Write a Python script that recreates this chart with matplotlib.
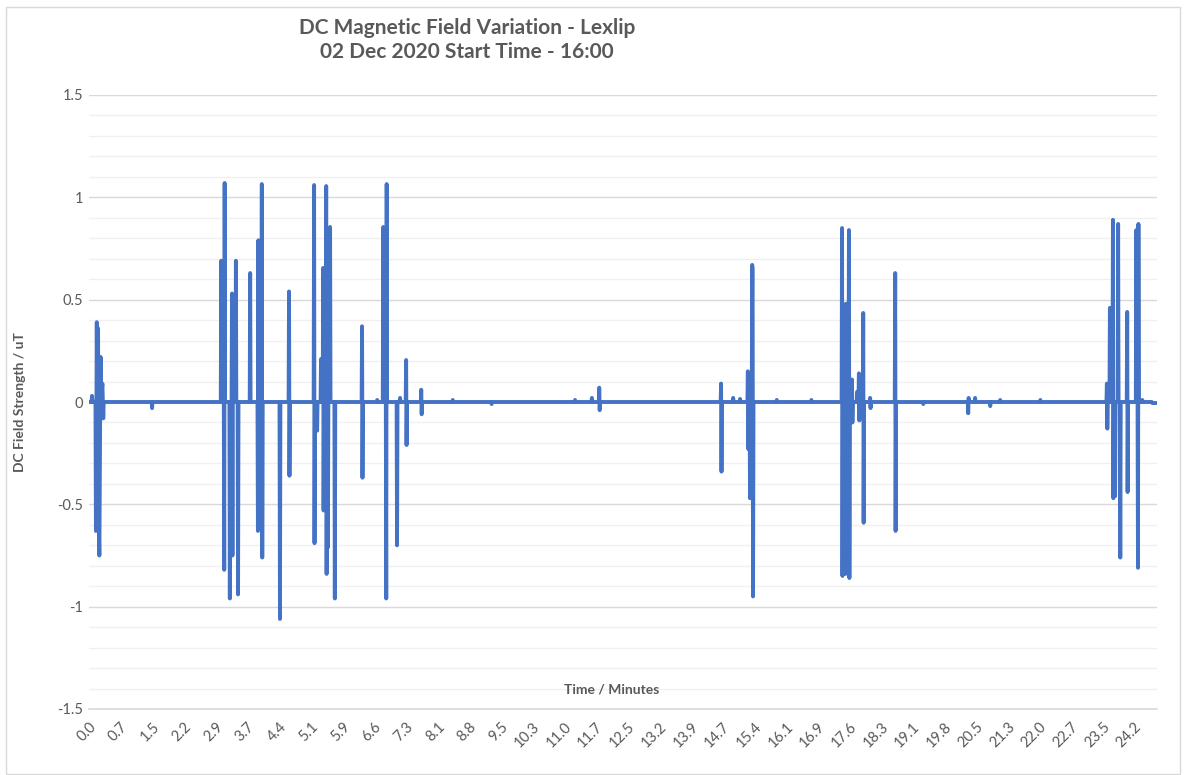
# Imports
from matplotlib import pyplot as plt
from matplotlib.patches import Rectangle
from matplotlib.ticker import MultipleLocator, FixedLocator


# Data (time in minutes, DC field strength in uT), read burst by burst
time_min: list[float] = [
	0.00, 0.06, 0.07, 0.08, 0.15, 0.16, 0.18, 0.19, 0.21, 0.22, 0.24, 0.26, 0.27, 0.28, 0.31, 0.33, 0.34,
	1.45, 1.46, 1.47,
	3.05, 3.06, 3.07, 3.12, 3.13, 3.14, 3.15, 3.25, 3.26, 3.27, 3.30, 3.31, 3.32, 3.33, 3.34,
	3.39, 3.40, 3.41, 3.44, 3.45, 3.46, 3.72, 3.73, 3.74, 3.90, 3.91, 3.92, 3.93,
	3.99, 4.00, 4.01, 4.02, 4.41, 4.42, 4.43, 4.62, 4.63, 4.64, 4.65,
	5.20, 5.21, 5.22, 5.23, 5.27, 5.28, 5.29, 5.36, 5.37, 5.38, 5.41, 5.42, 5.43, 5.44,
	5.48, 5.49, 5.50, 5.51, 5.52, 5.53, 5.54, 5.57, 5.58, 5.59, 5.68, 5.69, 5.70,
	6.31, 6.32, 6.33, 6.34, 6.66, 6.67, 6.68, 6.80, 6.81, 6.82, 6.87, 6.88, 6.89, 6.90,
	7.12, 7.13, 7.14, 7.19, 7.20, 7.21, 7.33, 7.34, 7.35, 7.36, 7.68, 7.69, 7.70, 7.71,
	8.41, 8.42, 8.43, 9.31, 9.32, 9.33,
	11.24, 11.25, 11.26, 11.63, 11.64, 11.65, 11.80, 11.81, 11.82, 11.83,
	14.62, 14.63, 14.64, 14.65, 14.90, 14.91, 14.92, 15.06, 15.07, 15.08,
	15.24, 15.25, 15.26, 15.27, 15.29, 15.30, 15.31, 15.34, 15.35, 15.36, 15.37, 15.38,
	15.91, 15.92, 15.93, 16.71, 16.72, 16.73,
	17.42, 17.43, 17.44, 17.45, 17.49, 17.50, 17.51, 17.52, 17.53, 17.58, 17.59, 17.60, 17.61,
	17.65, 17.66, 17.67, 17.68, 17.77, 17.78, 17.79, 17.81, 17.82, 17.83, 17.84,
	17.91, 17.92, 17.93, 17.94, 18.07, 18.08, 18.09, 18.10, 18.65, 18.66, 18.67, 18.68,
	19.30, 19.31, 19.32,
	20.34, 20.35, 20.36, 20.37, 20.50, 20.51, 20.52, 20.85, 20.86, 20.87, 21.08, 21.09, 21.10,
	22.01, 22.02, 22.03,
	23.55, 23.56, 23.57, 23.58, 23.62, 23.63, 23.64, 23.69, 23.70, 23.71, 23.72, 23.74, 23.75, 23.76,
	23.81, 23.82, 23.83, 23.86, 23.87, 23.88, 24.02, 24.03, 24.04, 24.05, 24.23, 24.24, 24.25,
	24.27, 24.28, 24.29, 24.30, 24.37, 24.38, 24.39, 24.60, 24.61, 24.72,
]
field_ut: list[float] = [
	0.00, 0.00, 0.03, 0.00, 0.00, -0.63, 0.39, 0.00, 0.36, -0.52, -0.75, 0.00, 0.22, 0.00, 0.09, -0.08, 0.00,
	0.00, -0.03, 0.00,
	0.00, 0.69, 0.00, 0.00, -0.82, 1.07, 0.00, 0.00, -0.96, 0.00, 0.00, 0.53, -0.75, 0.52, 0.00,
	0.00, 0.69, 0.00, 0.00, -0.94, 0.00, 0.00, 0.63, 0.00, 0.00, -0.63, 0.79, 0.00,
	0.00, 1.065, -0.76, 0.00, 0.00, -1.06, 0.00, 0.00, 0.54, -0.36, 0.00,
	0.00, 1.06, -0.69, 0.00, 0.00, -0.14, 0.00, 0.00, 0.21, 0.00, 0.00, 0.655, -0.53, 0.00,
	0.00, 1.055, -0.84, 0.00, 0.00, -0.71, 0.00, 0.00, 0.855, 0.00, 0.00, -0.96, 0.00,
	0.00, 0.37, -0.37, 0.00, 0.00, 0.01, 0.00, 0.00, 0.855, 0.00, 0.00, -0.96, 1.065, 0.00,
	0.00, -0.70, 0.00, 0.00, 0.02, 0.00, 0.00, 0.205, -0.21, 0.00, 0.00, 0.06, -0.06, 0.00,
	0.00, 0.01, 0.00, 0.00, -0.01, 0.00,
	0.00, 0.01, 0.00, 0.00, 0.02, 0.00, 0.00, 0.07, -0.04, 0.00,
	0.00, 0.09, -0.34, 0.00, 0.00, 0.02, 0.00, 0.00, 0.015, 0.00,
	0.00, 0.15, -0.23, 0.00, 0.00, -0.47, 0.00, 0.00, 0.67, 0.65, -0.95, 0.00,
	0.00, 0.01, 0.00, 0.00, 0.01, 0.00,
	0.00, 0.85, -0.85, 0.00, 0.00, 0.40, -0.84, 0.48, 0.00, 0.00, 0.84, -0.86, 0.00,
	0.00, 0.11, -0.10, 0.00, 0.00, 0.05, 0.00, 0.00, 0.14, -0.09, 0.00,
	0.00, 0.435, -0.59, 0.00, 0.00, 0.02, -0.03, 0.00, 0.00, 0.63, -0.63, 0.00,
	0.00, -0.01, 0.00,
	0.00, -0.055, 0.02, 0.00, 0.00, 0.02, 0.00, 0.00, -0.02, 0.00, 0.00, 0.01, 0.00,
	0.00, 0.01, 0.00,
	0.00, 0.09, -0.13, 0.00, 0.00, 0.46, 0.00, 0.00, 0.89, -0.47, 0.00, 0.00, -0.46, 0.00,
	0.00, 0.87, 0.00, 0.00, -0.76, 0.00, 0.00, 0.44, -0.44, 0.00, 0.00, 0.84, 0.00,
	0.00, -0.81, 0.87, 0.00, 0.00, 0.01, 0.00, 0.00, -0.005, -0.005,
]

# Category labels shown on the time axis (one every 44 s)
tick_labels: list[str] = [
	"0.0", "0.7", "1.5", "2.2", "2.9", "3.7", "4.4", "5.1", "5.9", "6.6", "7.3", "8.1",
	"8.8", "9.5", "10.3", "11.0", "11.7", "12.5", "13.2", "13.9", "14.7", "15.4", "16.1", "16.9",
	"17.6", "18.3", "19.1", "19.8", "20.5", "21.3", "22.0", "22.7", "23.5", "24.2",
]
TICK_STEP: float = 44 / 60

TITLE: str = "DC Magnetic Field Variation - Lexlip\n02 Dec 2020 Start Time - 16:00"
TEXT_GRAY: str = "#595959"
LINE_BLUE: str = "#4472C4"

plt.rcParams["font.family"] = ["Lato", "DejaVu Sans"]


# Figure and axes
fig = plt.figure(figsize = (11.86, 7.75), dpi = 100)
ax = fig.add_axes([89 / 1186, 1 - 709 / 775, (1157 - 89) / 1186, (709 - 95) / 775])

ax.plot(time_min, field_ut, color = LINE_BLUE, linewidth = 2.8, solid_joinstyle = "round", solid_capstyle = "round", zorder = 3)

# Axes limits and ticks
ax.set_xlim(0, time_min[-1])
ax.set_ylim(-1.5, 1.5)
ax.xaxis.set_major_locator(FixedLocator([i * TICK_STEP for i in range(len(tick_labels))]))
ax.set_xticklabels(tick_labels, rotation = 45, ha = "right", rotation_mode = "anchor")
ax.yaxis.set_minor_locator(MultipleLocator(0.1))
ax.set_yticks([-1.5, -1, -0.5, 0, 0.5, 1, 1.5])
ax.set_yticklabels(["-1.5", "-1", "-0.5", "0", "0.5", "1", "1.5"])
ax.tick_params(axis = "both", which = "both", length = 0, labelsize = 10.5, labelcolor = TEXT_GRAY)
ax.tick_params(axis = "x", pad = 8)
ax.tick_params(axis = "y", pad = 4)

# Gridlines
ax.grid(axis = "y", which = "major", color = "#D9D9D9", linewidth = 1.0)
ax.grid(axis = "y", which = "minor", color = "#F0F0F0", linewidth = 1.0)
ax.set_axisbelow(True)
for side in ["top", "right", "left"]:
	ax.spines[side].set_visible(False)
ax.spines["bottom"].set_color("#D9D9D9")
ax.spines["bottom"].set_linewidth(1.2)

# Texts
fig.text(467 / 1186, 1 - 40 / 775, TITLE, ha = "center", va = "center", fontsize = 15,
	fontweight = "bold", color = TEXT_GRAY, linespacing = 1.25)
fig.text(20 / 1186, 1 - 402 / 775, "DC Field Strength / uT", ha = "center", va = "center",
	rotation = 90, fontsize = 10, fontweight = "bold", color = TEXT_GRAY)
fig.text(612 / 1186, 1 - 689 / 775, "Time / Minutes", ha = "center", va = "center",
	fontsize = 10, fontweight = "bold", color = TEXT_GRAY)

# Chart border
fig.patches.append(Rectangle((6 / 1186, 1 / 775), 1174 / 1186, 767 / 775, transform = fig.transFigure,
	fill = False, edgecolor = "#D9D9D9", linewidth = 1.0))

fig.savefig("out.png", dpi = 100)
